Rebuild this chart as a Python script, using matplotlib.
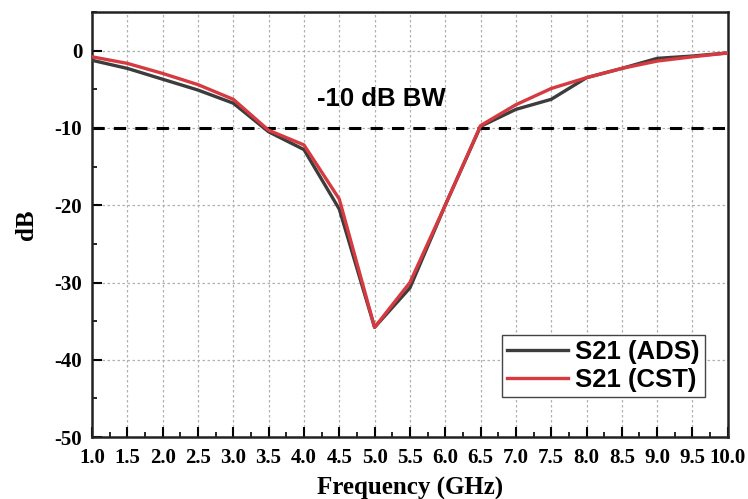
import matplotlib
matplotlib.use("Agg")
import matplotlib.pyplot as plt
from matplotlib.ticker import MultipleLocator

plt.rcParams["axes.unicode_minus"] = False

freq = [1.0, 1.5, 2.0, 2.5, 3.0, 3.5, 4.0, 4.5, 5.0, 5.5, 6.0, 6.5, 7.0, 7.5, 8.0, 8.5, 9.0, 9.5, 10.0]
s21_ads = [-1.25, -2.3, -3.7, -5.1, -6.8, -10.5, -12.8, -20.5, -35.8, -30.7, -20.0, -9.8, -7.6, -6.3, -3.5, -2.3, -1.0, -0.7, -0.3]
s21_cst = [-0.8, -1.65, -2.95, -4.4, -6.3, -10.3, -12.2, -19.2, -35.8, -30.0, -20.0, -9.7, -7.0, -4.9, -3.5, -2.3, -1.35, -0.8, -0.3]
threshold = -10
bw_label = "-10 dB BW"
xticks = [1.0, 1.5, 2.0, 2.5, 3.0, 3.5, 4.0, 4.5, 5.0, 5.5, 6.0, 6.5, 7.0, 7.5, 8.0, 8.5, 9.0, 9.5, 10.0]
yticks = [0, -10, -20, -30, -40, -50]

serif = ["Liberation Serif", "DejaVu Serif"]
sans = ["Liberation Sans", "DejaVu Sans"]

fig = plt.figure(figsize=(7.48, 4.99), dpi=100)
ax = fig.add_axes([0.123, 0.124, 0.850, 0.852])

ax.plot(freq, s21_ads, color="#3c3c3c", lw=2.4, label="S21 (ADS)", zorder=3)
ax.plot(freq, s21_cst, color="#d63a40", lw=2.4, label="S21 (CST)", zorder=4)
ax.axhline(threshold, color="black", lw=2.2, ls=(0, (4, 3)), zorder=2)
ax.text(5.1, -6.2, bw_label, ha="center", va="center", fontsize=18.5,
        fontweight="bold", family=sans)

ax.set_xlim(1.0, 10.0)
ax.set_ylim(-50, 5)
ax.set_xticks(xticks)
ax.set_xticklabels([f"{t:.1f}" for t in xticks])
ax.set_yticks(yticks)
ax.set_yticklabels([f"{t:d}" for t in yticks])
ax.xaxis.set_minor_locator(MultipleLocator(0.25))
ax.yaxis.set_minor_locator(MultipleLocator(5))
ax.grid(True, which="major", color="#b0b0b0", ls=(0, (2, 2)), lw=0.9)
ax.tick_params(which="major", direction="in", length=7, width=1.5)
ax.tick_params(which="minor", direction="in", length=3.5, width=1.2)
ax.tick_params(axis="x", labelsize=15, pad=8)
ax.tick_params(axis="y", labelsize=15, pad=7)
for lab in ax.get_xticklabels() + ax.get_yticklabels():
    lab.set_family(serif)
    lab.set_fontweight("bold")
for s in ax.spines.values():
    s.set_linewidth(1.8)
    s.set_color("#222222")

ax.set_xlabel("Frequency (GHz)", fontsize=18, fontweight="bold", family=serif, labelpad=6)
ax.set_ylabel("dB", fontsize=18, fontweight="bold", family=serif, labelpad=12)

leg = ax.legend(loc="lower right", bbox_to_anchor=(0.964, 0.095), fancybox=False,
                prop={"family": sans, "weight": "bold", "size": 18.5},
                handlelength=2.35, borderpad=0.2, labelspacing=0.15, handletextpad=0.3,
                borderaxespad=0.0, framealpha=1)
leg.get_frame().set_edgecolor("#444444")
leg.get_frame().set_linewidth(1.0)

fig.savefig("out.png", dpi=100)
